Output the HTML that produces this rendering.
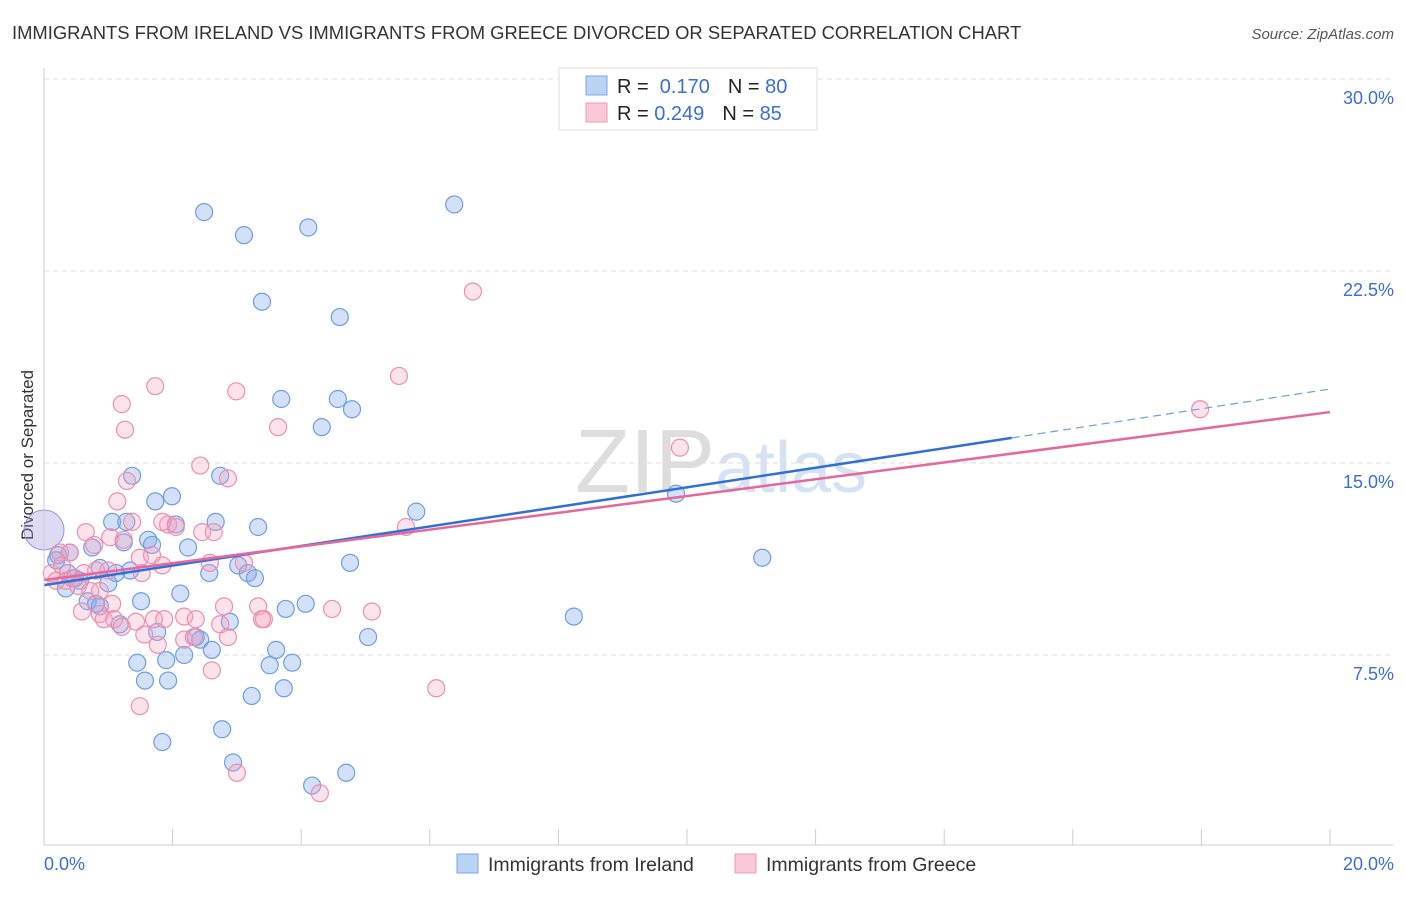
<!DOCTYPE html>
<html><head><meta charset="utf-8"><style>
body{margin:0;background:#fff;font-family:"Liberation Sans",sans-serif;}
svg text{font-family:"Liberation Sans",sans-serif;}
</style></head><body>
<svg id="chart" width="1406" height="892">
<text x="12" y="39" font-size="18.4" fill="#333">IMMIGRANTS FROM IRELAND VS IMMIGRANTS FROM GREECE DIVORCED OR SEPARATED CORRELATION CHART</text>
<text x="1394" y="39" font-size="15" fill="#555" font-style="italic" text-anchor="end">Source: ZipAtlas.com</text>
<text transform="translate(33,455) rotate(-90)" font-size="17" fill="#333" text-anchor="middle">Divorced or Separated</text>
<text x="715" y="492" font-size="90" fill="#ddd" text-anchor="end" font-family="Liberation Serif">ZIP</text>
<text x="715" y="492" font-size="72" fill="#d5e2f3">atlas</text>
<g id="grid"></g><g id="ticks"></g><g id="pts"></g><g id="lines"></g>
<line x1="44" y1="68" x2="44" y2="845" stroke="#ccc"/>
<line x1="44" y1="845" x2="1393" y2="845" stroke="#ccc"/>
<text x="44" y="870" font-size="18" fill="#3a6fd0">0.0%</text>
<text x="1394" y="870" font-size="18" fill="#3a6fd0" text-anchor="end">20.0%</text>
<g>
<rect x="559" y="68" width="258" height="62" fill="#fff" stroke="#ddd"/>
<rect x="586" y="76" width="21" height="19" fill="#b9d3f5" stroke="#7ea6e6"/>
<rect x="586" y="103" width="21" height="19" fill="#fbc8d7" stroke="#ee9ab5"/>
<text x="617" y="93" font-size="20" fill="#222">R = <tspan fill="#3a6fd0">&#160;0.170</tspan><tspan dx="18">N = </tspan><tspan fill="#3a6fd0">80</tspan></text>
<text x="617" y="120" font-size="20" fill="#222">R = <tspan fill="#3a6fd0">0.249</tspan><tspan dx="18">N = </tspan><tspan fill="#3a6fd0"> 85</tspan></text>
</g>
<g>
<rect x="457" y="854" width="21" height="19" fill="#b9d3f5" stroke="#7ea6e6"/>
<text x="488" y="871" font-size="19.5" fill="#333">Immigrants from Ireland</text>
<rect x="735" y="854" width="21" height="19" fill="#fbc8d7" stroke="#ee9ab5"/>
<text x="766" y="871" font-size="19.5" fill="#333">Immigrants from Greece</text>
</g>
</svg>
<script>
const yTicks=[7.5,15.0,22.5,30.0];
const xTicks=[0,2,4,6,8,10,12,14,16,18,20];
const irelandX=[2.49,3.11,4.11,6.38,3.39,4.60,3.69,4.57,4.79,4.32,1.37,2.74,1.99,1.73,1.06,1.28,2.67,3.33,2.05,1.62,1.68,2.24,1.24,0.75,5.79,9.83,11.17,4.76,3.02,3.17,3.28,2.57,1.34,1.12,0.87,1.00,0.56,0.34,0.37,0.19,0.40,2.12,1.51,0.68,0.87,1.18,2.89,1.76,2.36,2.43,2.61,3.76,4.07,5.04,8.24,3.61,1.90,2.18,3.51,3.86,1.45,1.57,1.93,3.23,3.73,2.77,1.84,2.94,4.70,4.17,0.81,0.22,0.48];
const irelandY=[24.8,23.9,24.2,25.1,21.3,20.7,17.5,17.5,17.1,16.4,14.5,14.5,13.7,13.5,12.7,12.7,12.7,12.5,12.6,12.0,11.8,11.7,11.9,11.7,13.1,13.8,11.3,11.1,11.0,10.7,10.5,10.7,10.8,10.7,10.9,10.3,10.4,10.1,10.7,11.2,11.5,9.9,9.6,9.6,9.4,8.7,8.8,8.4,8.2,8.1,7.7,9.3,9.5,8.2,9.0,7.7,7.3,7.5,7.1,7.2,7.2,6.5,6.5,5.9,6.2,4.6,4.1,3.3,2.9,2.4,9.5,11.4,10.5];
const greeceX=[6.67,5.52,1.73,2.99,1.21,1.26,3.64,9.89,17.98,2.43,2.86,1.29,1.14,1.37,1.93,2.05,1.84,2.46,2.64,0.65,5.63,1.03,1.24,0.78,1.49,1.68,2.58,3.11,0.25,0.40,0.81,0.62,1.00,1.52,1.84,0.12,0.34,0.44,0.19,0.53,0.72,1.06,0.87,1.09,1.43,1.21,1.71,1.87,2.18,2.80,3.33,3.42,4.48,5.10,1.56,1.77,2.18,2.33,2.74,2.86,2.61,1.49,3.00,4.29,6.10,0.87,0.28,0.59,0.93,2.36,3.39];
const greeceY=[21.7,18.4,18.0,17.8,17.3,16.3,16.4,15.6,17.1,14.9,14.4,14.3,13.5,12.7,12.6,12.5,12.7,12.3,12.3,12.3,12.5,12.1,12.0,11.8,11.3,11.4,11.1,11.1,11.5,11.5,10.8,10.7,10.8,10.7,11.0,10.7,10.4,10.5,10.4,10.2,10.0,9.5,9.1,8.9,8.8,8.6,8.9,8.9,9.0,9.4,9.4,8.9,9.3,9.2,8.3,7.9,8.1,8.2,8.7,8.2,6.9,5.5,2.9,2.1,6.2,10.0,11.0,9.2,8.9,8.9,8.9];
const irelandTrend=[10.23,15.98,17.89];
const irelandTrendX=[0,15.05,20];
const greeceTrend=[10.43,16.99];
const greeceTrendX=[0,20];
const NS='http://www.w3.org/2000/svg';
const X=v=>44+v/20*1286;
const Y=v=>847-v/7.5*192;
function mk(tag,attrs,parent){const e=document.createElementNS(NS,tag);for(const k in attrs)e.setAttribute(k,attrs[k]);document.getElementById(parent).appendChild(e);return e;}
yTicks.forEach(t=>{
 const l=mk('line',{x1:44,x2:1393,y1:Y(t),y2:Y(t),stroke:'#ddd','stroke-dasharray':'5,4'},'grid');
 
 
 const tx=mk('text',{x:1394,y:Y(t)+25,'font-size':18,fill:'#3a6fd0','text-anchor':'end'},'grid');
 tx.textContent=t.toFixed(1)+'%';
 
 
});
xTicks.forEach(t=>{
 const l=mk('line',{x1:X(t),x2:X(t),y1:829,y2:845,stroke:'#ccc'},'ticks');
 
 
});
const big=mk('circle',{cx:44,cy:530,r:20,fill:'rgba(160,150,220,0.35)',stroke:'#9b93d8'},'pts');


irelandX.forEach((x,i)=>{
 const c=mk('circle',{cx:X(x),cy:Y(irelandY[i]),r:8.5,fill:'rgba(130,170,235,0.35)',stroke:'#6d9de2','stroke-width':1.2},'pts');
 
 
});
greeceX.forEach((x,i)=>{
 const c=mk('circle',{cx:X(x),cy:Y(greeceY[i]),r:8.5,fill:'rgba(245,160,190,0.3)',stroke:'#ec8fae','stroke-width':1.2},'pts');
 
 
});
const bl=mk('line',{x1:X(irelandTrendX[0]),y1:Y(irelandTrend[0]),x2:X(irelandTrendX[1]),y2:Y(irelandTrend[1]),stroke:'#2f6fd6','stroke-width':2.5},'lines');


const bd=mk('line',{x1:X(irelandTrendX[1]),y1:Y(irelandTrend[1]),x2:X(irelandTrendX[2]),y2:Y(irelandTrend[2]),stroke:'#6d9de2','stroke-width':1.2,'stroke-dasharray':'8,5'},'lines');


const pl=mk('line',{x1:X(greeceTrendX[0]),y1:Y(greeceTrend[0]),x2:X(greeceTrendX[1]),y2:Y(greeceTrend[1]),stroke:'#e5689a','stroke-width':2.5},'lines');


</script>
</body></html>
